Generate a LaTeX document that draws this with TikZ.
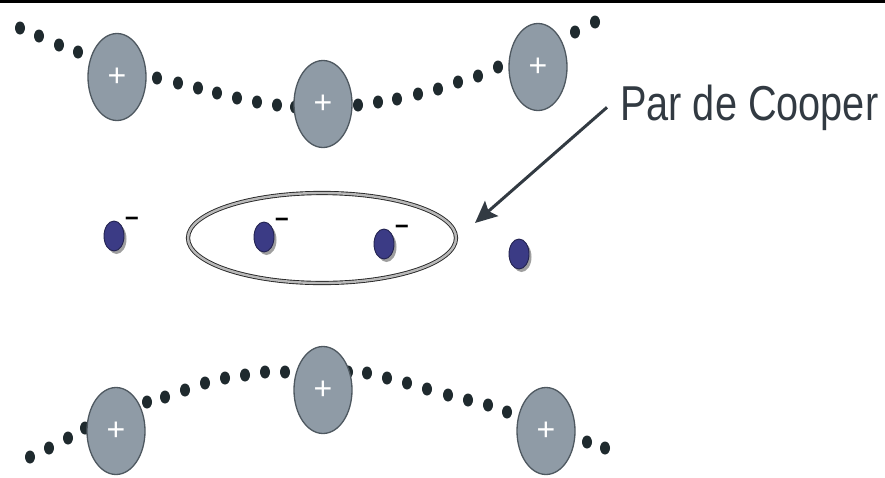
\documentclass[tikz,border=0pt]{standalone}
\usepackage{fontspec}
\setmainfont{Liberation Sans}
\usepackage{graphicx}
\usetikzlibrary{arrows.meta,shapes.geometric,shadows}
\definecolor{ionfill}{HTML}{8F9BA6}
\definecolor{ionline}{HTML}{4E5860}
\definecolor{beadcol}{HTML}{1F2A2E}
\definecolor{eleccol}{HTML}{3B3B85}
\definecolor{inkgray}{HTML}{323A42}

\tikzset{
  ion/.style={ellipse,fill=ionfill,draw=ionline,line width=1.3pt,
    minimum width=58pt,minimum height=87pt,inner sep=0pt,text=white,
    font=\fontsize{32}{32}\selectfont},
  electron/.style={ellipse,fill=eleccol,draw=eleccol!60!black,line width=0.9pt,
    minimum width=20pt,minimum height=30pt,inner sep=0pt,
    drop shadow={shadow xshift=2.5pt,shadow yshift=-3pt,fill=gray!75,opacity=1}},
  charge/.style={inner sep=0pt,text=black,font=\bfseries\fontsize{24}{24}\selectfont},
  pairring/.style={ellipse,draw=black!85,line width=0.9pt,double=gray!55,
    double distance=2.4pt,minimum width=268pt,minimum height=90pt},
  pointer/.style={-{Stealth[length=22pt,width=20pt,inset=4pt]},line width=3pt,draw=inkgray},
}

\begin{document}
\begin{tikzpicture}[x=1pt,y=-1pt]
\useasboundingbox (0,0) rectangle (885,477);
\fill[black] (0,0) rectangle (885,3);
% ---------- upper row of the lattice ----------
\foreach \p in {(20,28),(39,36),(59,45),(78,52),(97,60),(157,78),(178,83),(198,88),
  (217,93),(237,98),(257,102),(277,105),(295,107),(358,105),(378,102),(397,99),
  (418,94),(438,89),(458,82),(478,76),(498,67),(518,58),(575,32),(595,22)}
  \fill[beadcol] \p ellipse (5 and 6.5);
\node[ion] (t1) at (117,77) {+};
\node[ion] (t2) at (323,104) {+};
\node[ion] (t3) at (538,67) {+};
% ---------- lower row ----------
\foreach \p in {(30,457),(49,448),(68,438),(85,428),(147,402),(165,397),(185,390),
  (205,383),(225,378),(245,375),(265,372),(285,372),(348,372),(367,373),(387,378),
  (407,383),(427,389),(448,395),(468,400),(488,405),(507,412),(587,442),(605,448)}
  \fill[beadcol] \p ellipse (5 and 6.5);
\node[ion] (b1) at (116,431) {+};
\node[ion] (b2) at (323,390) {+};
\node[ion] (b3) at (546,431) {+};
% ---------- electrons and the bound pair ----------
\node[pairring] (pair) at (322,238) {};
\node[electron] (e1) at (114,236) {};
\node[electron] (e2) at (264,237) {};
\node[electron] (e3) at (384,244) {};
\node[electron] (e4) at (519,254) {};
\node[charge] (m1) at ([shift={(18,-14)}]e1) {−};
\node[charge] (m2) at ([shift={(18,-14)}]e2) {−};
\node[charge] (m3) at ([shift={(18,-14)}]e3) {−};
% label + pointer
\node[anchor=base west,inner sep=0pt,text=inkgray,font=\fontsize{49}{55}\selectfont]
  (lbl) at (620,120) {\scalebox{0.81}[1]{Par de Cooper}};
\coordinate (tip) at (475,223);
\draw[pointer] ([xshift=-13pt]lbl.west) -- (tip);
\end{tikzpicture}
\end{document}
